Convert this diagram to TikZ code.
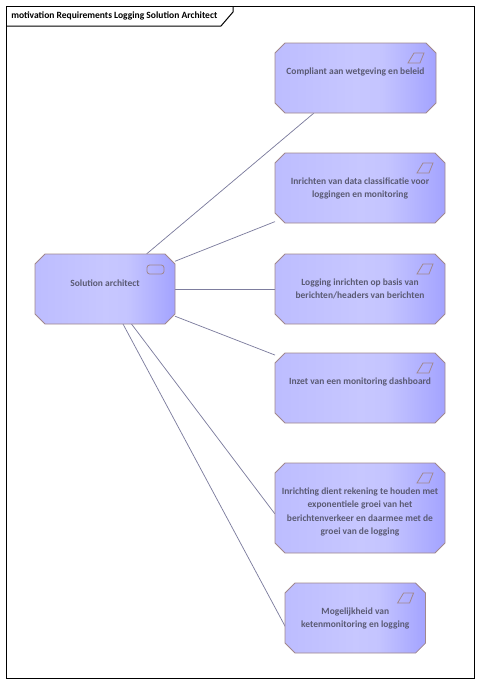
\documentclass[tikz,border=0pt]{standalone}
\usepackage{fontspec}
\setmainfont{Carlito}
\usepackage{xcolor}
\usetikzlibrary{positioning, calc}

\definecolor{boxline}{RGB}{160,135,140}
\definecolor{linkline}{RGB}{125,125,158}
\definecolor{boxtext}{RGB}{90,90,115}
\pgfdeclarehorizontalshading{reqshade}{100bp}{rgb(0bp)=(0.74,0.74,1); rgb(25bp)=(0.74,0.74,1); rgb(50bp)=(0.78,0.78,1); rgb(58bp)=(0.77,0.77,1); rgb(75bp)=(0.64,0.64,1); rgb(100bp)=(0.64,0.64,1)}

\tikzset{
    reqbox/.style={rectangle, inner sep=0pt, outer sep=0pt, minimum width=127.5pt, minimum height=52.5pt},
    reqfill/.style={draw=boxline, line width=0.6pt, shading=reqshade},
    reqtext/.style={font=\bfseries\fontsize{7.1pt}{9.85pt}\selectfont, text=boxtext, align=center, inner sep=0pt},
    iconline/.style={draw=boxline, line width=0.6pt},
    linkline/.style={draw=linkline, line width=0.55pt}
}

% Box outline with cut corners, around a named node
\newcommand{\reqoutline}[1]{
    \draw[reqfill] ($(#1.north west)+(10,0)$) -- ($(#1.north east)+(-10,0)$) -- ($(#1.north east)+(0,10)$)
        -- ($(#1.south east)+(0,-10)$) -- ($(#1.south east)+(-10,0)$) -- ($(#1.south west)+(10,0)$)
        -- ($(#1.south west)+(0,-10)$) -- ($(#1.north west)+(0,10)$) -- cycle;
}

\begin{document}
\begin{tikzpicture}[x=0.75pt, y=-0.75pt]
    \useasboundingbox (0,0) rectangle (480,683);

    % Diagram frame with its title tab
    \coordinate (framenw) at (6.5,6);
    \coordinate (framese) at (474,678);
    \draw[line width=0.75pt] (framenw) rectangle (framese);
    \draw[line width=0.75pt] (6.5,26) -- (221,26) -- (233,12) -- (233,6);
    \node[anchor=west, inner sep=0pt, font=\bfseries\fontsize{7.15pt}{9pt}\selectfont] (title) at (11,16)
        {motivation Requirements Logging Solution Architect};

    % Actor on the left
    \node[reqbox, minimum width=105pt] (sol) at (105,289) {};

    % Requirements on the right
    \node[reqbox, minimum width=120.75pt] (req1) at (355.5,78) {};
    \node[reqbox] (req2) at (360,188) {};
    \node[reqbox] (req3) at (360,289) {};
    \node[reqbox] (req4) at (360,388) {};
    \node[reqbox, minimum height=67.5pt] (req5) at (360,508) {};
    \node[reqbox, minimum width=105.4pt] (req6) at (355.3,618) {};

    % Connections from the actor
    \coordinate (solfive) at (131.5,324);
    \coordinate (solsix) at (123,324);
    \coordinate (reqfive) at (275,514);
    \coordinate (reqsix) at (285.5,627);
    \draw[linkline] (sol) -- (req1);
    \draw[linkline] (sol) -- (req2);
    \draw[linkline] (sol) -- (req3);
    \draw[linkline] (sol) -- (req4);
    \draw[linkline] (solfive) -- (reqfive);
    \draw[linkline] (solsix) -- (reqsix);

    % Box outlines
    \reqoutline{sol}
    \reqoutline{req1}
    \reqoutline{req2}
    \reqoutline{req3}
    \reqoutline{req4}
    \reqoutline{req5}
    \reqoutline{req6}

    % Labels
    \node[reqtext, below=19.5pt of sol.north] (soltext) {Solution architect};
    \node[reqtext, below=18.7pt of req1.north] (text1) {Compliant aan wetgeving en beleid};
    \node[reqtext, below=18.7pt of req2.north] (text2) {Inrichten van data classificatie voor\\loggingen en monitoring};
    \node[reqtext, below=18.7pt of req3.north] (text3) {Logging inrichten op basis van\\berichten/headers van berichten};
    \node[reqtext, below=18.7pt of req4.north] (text4) {Inzet van een monitoring dashboard};
    \node[reqtext, below=18.7pt of req5.north] (text5) {Inrichting dient rekening te houden met\\exponentiele groei van het\\berichtenverkeer en daarmee met de\\groei van de logging};
    \node[reqtext, below=18.7pt of req6.north] (text6) {Mogelijkheid van\\ketenmonitoring en logging};

    % Small icons in the corners
    \draw[iconline, rounded corners=2pt] ($(sol.north east)+(-28,11)$) rectangle ($(sol.north east)+(-11,20)$);
    \draw[iconline] ($(req1.north east)+(-28,20)$) -- ++(12,0) -- ++(4,-10) -- ++(-10,0) -- cycle;
    \draw[iconline] ($(req2.north east)+(-28,20)$) -- ++(12,0) -- ++(4,-10) -- ++(-10,0) -- cycle;
    \draw[iconline] ($(req3.north east)+(-28,20)$) -- ++(12,0) -- ++(4,-10) -- ++(-10,0) -- cycle;
    \draw[iconline] ($(req4.north east)+(-28,20)$) -- ++(12,0) -- ++(4,-10) -- ++(-10,0) -- cycle;
    \draw[iconline] ($(req5.north east)+(-28,20)$) -- ++(12,0) -- ++(4,-10) -- ++(-10,0) -- cycle;
    \draw[iconline] ($(req6.north east)+(-28,20)$) -- ++(12,0) -- ++(4,-10) -- ++(-10,0) -- cycle;

\end{tikzpicture}
\end{document}
